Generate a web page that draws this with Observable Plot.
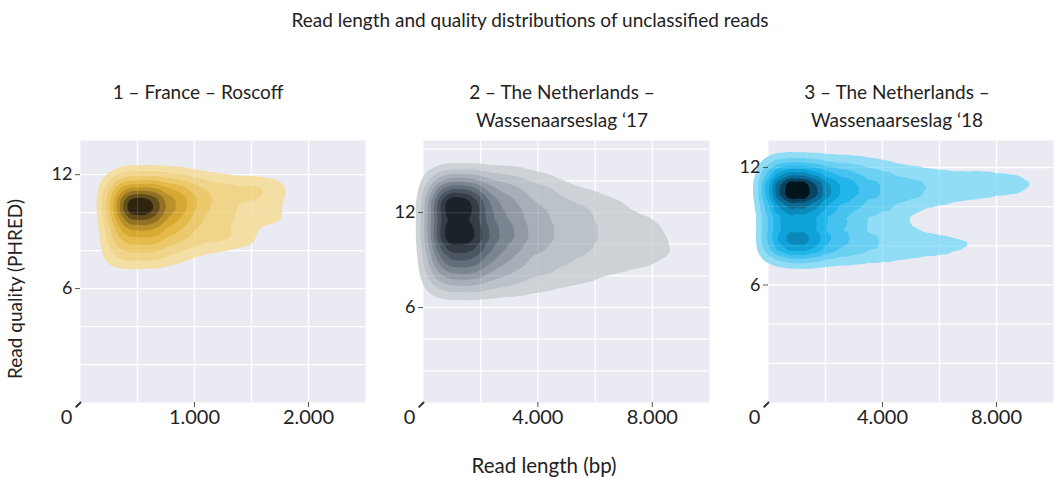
<!DOCTYPE html>
<html><head><meta charset="utf-8">
<script src="https://cdn.jsdelivr.net/npm/d3@7"></script>
<script src="https://cdn.jsdelivr.net/npm/@observablehq/plot@0.6"></script>
<style>
body{margin:0;background:#fff;}
#root{position:relative;width:1056px;height:478px;font-family:Lato,sans-serif;color:#222;overflow:hidden}
.t{position:absolute;white-space:nowrap;transform:translate(-50%,-50%);text-align:center;line-height:28px}
.p{position:absolute;top:130px}
</style></head><body><div id="root"></div>
<script>
// ---- text ----
const mainTitle = "Read length and quality distributions of unclassified reads";
const panelTitles = ["1 – France – Roscoff", "2 – The Netherlands –<br>Wassenaarseslag ‘17", "3 – The Netherlands –<br>Wassenaarseslag ‘18"];
const xTitle = "Read length (bp)";
const yTitle = "Read quality (PHRED)";

// ---- binned read counts (relative), one column per read-length bin, one entry per quality bin ----
// panel 1: France – Roscoff
const p1Length  = [250, 375, 500, 625, 750, 875, 1000, 1125, 1250, 1375, 1500, 1625, 1750];
const p1Quality = [6.8, 7.4, 8.0, 8.6, 9.2, 9.8, 10.4, 11.0, 11.6, 12.2, 12.8];
const p1Counts = [
  [0, 12, 14, 16, 20, 24, 28, 26, 16, 4, 0],
  [0, 14, 20, 28, 38, 50, 60, 48, 28, 8, 0],
  [0, 15, 24, 32, 45, 62, 100, 55, 32, 10, 0],
  [0, 14, 22, 30, 42, 55, 70, 52, 30, 10, 0],
  [0, 12, 19, 26, 35, 45, 52, 46, 28, 9, 0],
  [0, 7, 15, 21, 28, 35, 40, 38, 24, 8, 0],
  [0, 3, 12, 17, 21, 26, 30, 30, 20, 6, 0],
  [0, 0, 10, 16, 16, 19, 22, 23, 16, 4, 0],
  [0, 0, 6, 18, 12, 16, 13, 20, 14, 2, 0],
  [0, 0, 0, 20, 6, 20, 8, 21, 14, 0, 0],
  [0, 0, 0, 17, 2, 20, 5, 21, 13, 0, 0],
  [0, 0, 0, 0, 0, 20, 3, 21, 11, 0, 0],
  [0, 0, 0, 0, 0, 17, 0, 19, 7, 0, 0]
];

// panel 2: The Netherlands – Wassenaarseslag '17
const p2Length  = [250, 750, 1250, 1750, 2250, 2750, 3250, 3750, 4250, 4750, 5250, 5750, 6250, 6750, 7250, 7750, 8250, 8750];
const p2Quality = [6.0, 6.8, 7.6, 8.4, 9.2, 10.0, 10.8, 11.6, 12.4, 13.2, 14.0, 14.8, 15.6];
const p2Counts = [
  [0, 8, 18, 28, 35, 40, 44, 42, 46, 35, 20, 6, 0],
  [0, 11, 26, 42, 55, 68, 78, 66, 86, 62, 35, 9, 0],
  [0, 12, 30, 50, 65, 78, 92, 70, 100, 72, 40, 10, 0],
  [0, 12, 28, 45, 58, 68, 74, 66, 78, 60, 35, 10, 0],
  [0, 11, 24, 38, 48, 55, 58, 54, 54, 43, 28, 9, 0],
  [0, 10, 20, 30, 38, 44, 46, 44, 40, 34, 24, 9, 0],
  [0, 9, 17, 24, 30, 35, 38, 36, 33, 28, 20, 8, 0],
  [0, 8, 15, 20, 25, 29, 31, 30, 27, 23, 17, 6, 0],
  [0, 6, 13, 18, 22, 25, 27, 26, 24, 20, 14, 3, 0],
  [0, 4, 12, 16, 19, 21, 22, 22, 20, 17, 10, 0, 0],
  [0, 2, 11, 15, 17, 19, 20, 19, 18, 14, 5, 0, 0],
  [0, 0, 9, 13, 15, 16, 17, 17, 16, 12, 0, 0, 0],
  [0, 0, 6, 12, 14, 15, 15, 15, 14, 9, 0, 0, 0],
  [0, 0, 3, 11, 13, 14, 14, 14, 12, 5, 0, 0, 0],
  [0, 0, 0, 10, 13, 13, 13, 12, 8, 0, 0, 0, 0],
  [0, 0, 0, 8, 12, 12, 12, 11, 3, 0, 0, 0, 0],
  [0, 0, 0, 4, 11, 11, 11, 8, 0, 0, 0, 0, 0],
  [0, 0, 0, 0, 10, 7, 4, 0, 0, 0, 0, 0, 0]
];

// panel 3: The Netherlands – Wassenaarseslag '18
const p3Length  = [0, 500, 1000, 1500, 2000, 2500, 3000, 3500, 4000, 4500, 5000, 5500, 6000, 6500, 7000, 7500, 8000, 8500, 9000, 9500];
const p3Quality = [6.7, 7.4, 8.1, 8.8, 9.5, 10.2, 10.9, 11.6, 12.3, 13.0];
const p3Counts = [
  [0, 12, 34, 25, 25, 35, 45, 35, 12, 0],
  [0, 16, 52, 36, 35, 55, 75, 50, 15, 0],
  [2, 20, 70, 42, 40, 65, 100, 60, 16, 0],
  [1, 18, 56, 36, 35, 55, 75, 50, 14, 0],
  [0, 16, 40, 28, 28, 42, 55, 40, 13, 0],
  [0, 14, 30, 22, 22, 32, 42, 32, 12, 0],
  [0, 13, 24, 17, 17, 26, 34, 26, 11, 0],
  [0, 12, 20, 13, 13, 22, 28, 22, 10, 0],
  [0, 11, 18, 11, 12, 19, 24, 19, 8, 0],
  [0, 10, 16, 9, 9, 17, 21, 17, 5, 0],
  [0, 8, 15, 8, 4, 15, 19, 15, 3, 0],
  [0, 7, 14, 6, 0, 12, 17, 14, 2, 0],
  [0, 6, 14, 4, 0, 10, 15, 13, 0, 0],
  [0, 4, 14, 2, 0, 8, 14, 12, 0, 0],
  [0, 0, 14, 0, 0, 6, 13, 12, 0, 0],
  [0, 0, 13, 0, 0, 4, 13, 12, 0, 0],
  [0, 0, 7, 0, 0, 3, 12, 11, 0, 0],
  [0, 0, 0, 0, 0, 2, 12, 10, 0, 0],
  [0, 0, 0, 0, 0, 0, 11, 8, 0, 0],
  [0, 0, 0, 0, 0, 0, 9, 4, 0, 0]
];

const fmt = d => d3.format(",")(d).replace(/,/g, ".");

const panels = [
  {len:p1Length, qual:p1Quality, counts:p1Counts, left:30, width:340, ml:50, mr:5,
   xDomain:[0,2500], yDomain:[0,13.8], xTicks:[1000,2000], xGrid:[500,1000,1500,2000], yGrid:[2,4,6,8,10,12], yTicks:[6,12],
   colors:["#f7e9bf","#f3dda0","#efd283","#e9c460","#e0b43a","#c79b2b","#9c7a25","#6a531b","#2e2410"], bw:7},
  {len:p2Length, qual:p2Quality, counts:p2Counts, left:375, width:337, ml:48, mr:3,
   xDomain:[0,10000], yDomain:[0,16.55], xTicks:[4000,8000], xGrid:[2000,4000,6000,8000], yGrid:[2,4,6,8,10,12,14,16], yTicks:[6,12],
   colors:["#d9dce0","#ccd1d5","#b7bec5","#a0a8b1","#87919b","#6c7783","#525c68","#38414b","#1c2229"], bw:7},
  {len:p3Length, qual:p3Quality, counts:p3Counts, left:720, width:336, ml:48, mr:3,
   xDomain:[0,10000], yDomain:[0,13.38], xTicks:[4000,8000], xGrid:[2000,4000,6000,8000], yGrid:[2,4,6,8,10,12], yTicks:[6,12],
   colors:["#b6e9fa","#8edcf6","#62cdf2","#36bdee","#12aee6","#0a94c6","#0b72a0","#0a4a68","#04141c"], bw:8}
];

const root = document.getElementById("root");
function addText(html, x, y, size, extra="") {
  const d = document.createElement("div");
  d.className = "t";
  d.style.left = x + "px"; d.style.top = y + "px"; d.style.fontSize = size + "px";
  d.style.cssText += extra;
  d.innerHTML = html;
  root.appendChild(d);
}

panels.forEach((c) => {
  const data = [];
  c.len.forEach((l, i) => c.qual.forEach((q, j) => {
    if (c.counts[i][j] > 0) data.push({len: l, q, w: c.counts[i][j]});
  }));
  const gridStyle = {stroke: "#fff", strokeWidth: 1.3, strokeOpacity: 1};
  const svg = Plot.plot({
    width: c.width, height: 310,
    marginLeft: c.ml, marginRight: c.mr, marginTop: 10, marginBottom: 38,
    x: {domain: c.xDomain, label: null},
    y: {domain: c.yDomain, label: null},
    color: {type: "linear", interpolate: d3.piecewise(d3.interpolateRgb, c.colors)},
    style: {fontFamily: "Lato", color: "#222", background: "transparent", overflow: "visible"},
    marks: [
      Plot.frame({fill: "#EAEAF2", stroke: null}),
      Plot.gridX(c.xGrid, gridStyle),
      Plot.gridY(c.yGrid, gridStyle),
      Plot.density(data, {x: "len", y: "q", weight: "w", fill: "density", bandwidth: c.bw, thresholds: 10}),
      Plot.gridX(c.xGrid, {stroke: "#fff", strokeWidth: 1.3, strokeOpacity: 0.12}),
      Plot.gridY(c.yGrid, {stroke: "#fff", strokeWidth: 1.3, strokeOpacity: 0.12}),
      Plot.axisX({ticks: c.xTicks, tickFormat: fmt, tickSize: 5, tickPadding: 2, fontSize: 20, stroke: "#555", fill: "#222", label: null}),
      Plot.axisX({ticks: [0], tickFormat: fmt, tickSize: 0, tickPadding: 7, dx: -14, fontSize: 20, fill: "#222", label: null}),
      Plot.axisY({ticks: c.yTicks, tickSize: 5, tickPadding: 3, fontSize: 18, stroke: "#555", fill: "#222", label: null}),
      Plot.vector([0], {x: d => d, y: () => 0, length: 6, rotate: 225, anchor: "start", stroke: "#333", strokeWidth: 2,
        shape: {draw(ctx, l) { ctx.moveTo(0, 0); ctx.lineTo(0, -l); }}})
    ]
  });
  svg.classList.add("p");
  svg.style.left = c.left + "px";
  root.appendChild(svg);
});

addText(mainTitle, 530, 20, 19);
addText(panelTitles[0], 198, 92, 19);
addText(panelTitles[1], 562, 106, 19);
addText(panelTitles[2], 897, 106, 19);
addText(xTitle, 544, 465, 20.5);
addText(yTitle, 15, 289, 19, "transform:translate(-50%,-50%) rotate(-90deg);");
</script></body></html>
